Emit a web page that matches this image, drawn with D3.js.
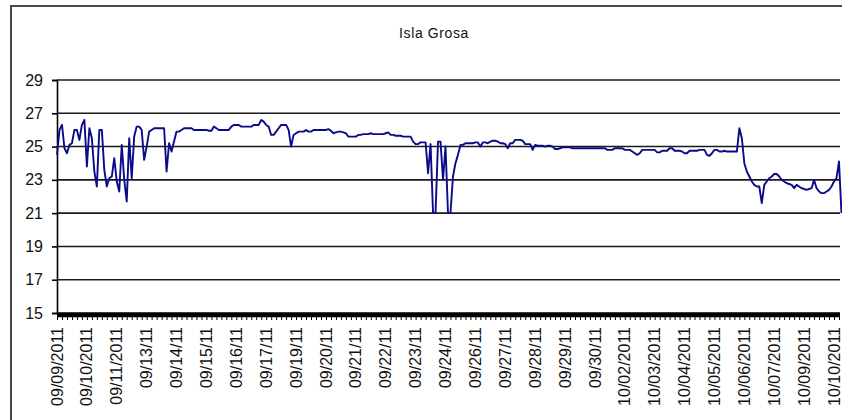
<!DOCTYPE html>
<html><head><meta charset="utf-8">
<script src="https://cdn.jsdelivr.net/npm/d3@7"></script>
<style>body{margin:0;background:#fff}svg{display:block}</style>
</head><body><svg id="c" width="842" height="420"></svg>
<script>
const chartTitle = "Isla Grosa";
const yTicks = [15, 17, 19, 21, 23, 25, 27, 29];
const dateLabels = ["09/09/2011","09/10/2011","09/11/2011","09/13/11","09/14/11","09/15/11","09/16/11","09/17/11","09/19/11","09/20/11","09/21/11","09/22/11","09/23/11","09/24/11","09/26/11","09/27/11","09/28/11","09/29/11","09/30/11","10/02/2011","10/03/2011","10/04/2011","10/05/2011","10/06/2011","10/07/2011","10/09/2011","10/10/2011"];
const pointsPerLabel = 12;
const temps = [
24.5,26.0,26.3,24.9,24.6,25.1,25.2,26.0,26.0,25.4,26.3,26.6,
23.8,26.1,25.5,23.5,22.6,26.0,26.0,23.6,22.6,23.1,23.2,24.3,
22.9,22.3,25.1,23.0,21.7,25.5,23.1,25.6,26.2,26.2,26.0,24.2,
25.0,25.9,26.0,26.1,26.1,26.1,26.1,26.1,23.5,25.2,24.7,25.3,
25.9,25.9,26.0,26.1,26.1,26.1,26.1,26.0,26.0,26.0,26.0,26.0,
26.0,25.95,25.95,26.2,26.1,26.0,26.0,26.0,26.0,26.0,26.2,26.3,
26.3,26.3,26.2,26.2,26.2,26.2,26.2,26.3,26.3,26.3,26.6,26.5,
26.3,26.2,25.7,25.7,25.9,26.1,26.3,26.3,26.3,26.0,25.0,25.7,
25.8,25.9,25.9,25.9,26.0,25.9,25.9,26.0,26.0,26.0,26.0,26.0,
26.0,26.05,25.95,25.8,25.85,25.9,25.9,25.85,25.8,25.6,25.6,25.6,
25.6,25.7,25.7,25.75,25.75,25.75,25.8,25.75,25.75,25.75,25.75,25.75,
25.8,25.85,25.7,25.7,25.65,25.65,25.65,25.6,25.6,25.6,25.6,25.3,
25.15,25.15,25.25,25.25,25.25,23.4,25.15,21.0,21.0,25.3,25.3,23.0,
25.0,21.0,21.0,23.2,24.0,24.5,25.1,25.1,25.2,25.2,25.2,25.2,
25.25,25.25,25.0,25.25,25.25,25.2,25.3,25.35,25.35,25.3,25.2,25.2,
25.15,24.9,25.2,25.2,25.4,25.4,25.4,25.35,25.15,25.15,25.15,24.8,
25.1,25.05,25.05,25.05,25.0,25.05,25.05,25.0,24.85,24.85,24.9,24.95,
24.95,24.95,24.95,24.9,24.9,24.9,24.9,24.9,24.9,24.9,24.9,24.9,
24.9,24.9,24.9,24.9,24.9,24.8,24.8,24.8,24.9,24.9,24.9,24.9,
24.8,24.8,24.8,24.7,24.6,24.5,24.6,24.8,24.8,24.8,24.8,24.8,
24.8,24.65,24.65,24.75,24.75,24.75,24.9,24.9,24.75,24.75,24.75,24.7,
24.6,24.6,24.75,24.75,24.75,24.75,24.8,24.8,24.8,24.5,24.45,24.6,
24.8,24.8,24.7,24.7,24.75,24.7,24.7,24.7,24.7,24.7,26.1,25.5,
24.0,23.5,23.2,22.9,22.7,22.6,22.6,21.6,22.7,22.9,23.1,23.2,
23.35,23.35,23.2,23.0,22.9,22.8,22.75,22.7,22.5,22.7,22.6,22.5,
22.45,22.4,22.45,22.5,23.0,22.5,22.3,22.2,22.2,22.3,22.4,22.6,
22.9,23.1,24.1,21.0
];

const svg = d3.select("#c");
const font = "'Liberation Sans', Arial, sans-serif";

// outer chart border
svg.append("rect").attr("x", 11).attr("y", 6).attr("width", 900).attr("height", 500)
  .attr("fill", "#fff").attr("stroke", "#4a4a4a").attr("stroke-width", 2);

const plotLeft = 57, plotRight = 840;
const lastLabelIdx = (dateLabels.length - 1) * pointsPerLabel;
const x = d3.scaleLinear().domain([0, lastLabelIdx]).range([57, 834]);
const y = d3.scaleLinear().domain([15, 29]).range([313, 80]);

// title
svg.append("text").attr("x", 434).attr("y", 38).attr("text-anchor", "middle")
  .attr("font-family", font).attr("font-size", 14).attr("letter-spacing", 0.6)
  .attr("fill", "#111").text(chartTitle);

// gridlines
svg.append("g").selectAll("line").data(yTicks).join("line")
  .attr("x1", plotLeft).attr("x2", plotRight)
  .attr("y1", d => y(d)).attr("y2", d => y(d))
  .attr("stroke", "#1a1a1a").attr("stroke-width", 1.6);

// y axis
const yAxis = d3.axisLeft(y).tickValues(yTicks).tickSize(5).tickPadding(9).tickFormat(d3.format("d"));
const gy = svg.append("g").attr("transform", `translate(${plotLeft},0)`).call(yAxis);
gy.select(".domain").attr("stroke", "#000").attr("stroke-width", 1.6);
gy.selectAll(".tick line").attr("stroke", "#000").attr("stroke-width", 1.6);
gy.selectAll("text").attr("font-family", font).attr("font-size", 16).attr("fill", "#111");

// x axis: dense ticks
const nPts = temps.length;
const minorTicks = d3.range(0, nPts, 2);
const xAxisMinor = d3.axisBottom(x).tickValues(minorTicks).tickSize(7).tickFormat("");
const gx = svg.append("g").attr("transform", `translate(0,${y(15)})`).call(xAxisMinor);
gx.select(".domain").remove();
gx.selectAll(".tick line").attr("stroke", "#000").attr("stroke-width", 1);
// thick axis band
svg.append("line").attr("x1", plotLeft).attr("x2", plotRight)
  .attr("y1", y(15) + 2).attr("y2", y(15) + 2)
  .attr("stroke", "#000").attr("stroke-width", 4.5);

// x labels
const labelIdx = dateLabels.map((d, i) => i * pointsPerLabel);
svg.append("g").selectAll("text").data(dateLabels).join("text")
  .attr("transform", (d, i) => `translate(${x(labelIdx[i])},327) rotate(-90)`)
  .attr("text-anchor", "end").attr("dy", "0.35em")
  .attr("font-family", font).attr("font-size", 16).attr("fill", "#111")
  .text(d => d);

// series
const line = d3.line().x((d, i) => x(i)).y(d => y(d));
svg.append("path").datum(temps).attr("d", line)
  .attr("fill", "none").attr("stroke", "#0b0b8a").attr("stroke-width", 1.9)
  .attr("stroke-linejoin", "round");
</script>
</body></html>
